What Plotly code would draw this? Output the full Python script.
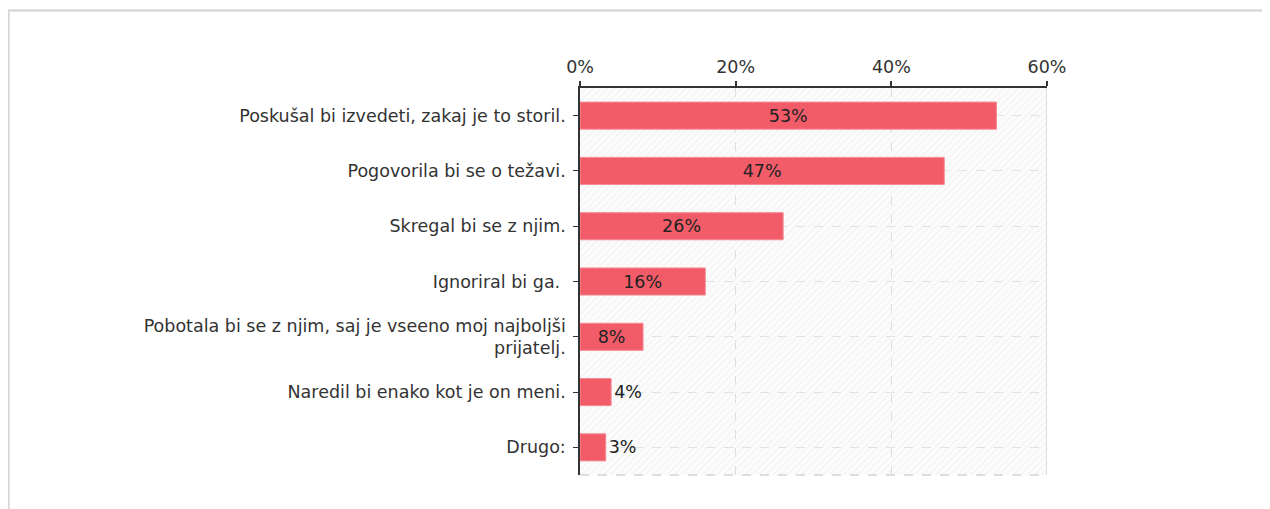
import plotly.graph_objects as go

# answers, top to bottom
answers = [
    "Poskušal bi izvedeti, zakaj je to storil.",
    "Pogovorila bi se o težavi.",
    "Skregal bi se z njim.",
    "Ignoriral bi ga. ",
    "Pobotala bi se z njim, saj je vseeno moj najboljši<br>prijatelj.",
    "Naredil bi enako kot je on meni.",
    "Drugo:",
]
shares = [53.5, 46.8, 26.1, 16.1, 8.1, 4.0, 3.3]
share_labels = ["53%", "47%", "26%", "16%", "8%", "4%", "3%"]
x_ticks = [0, 20, 40, 60]
x_tick_text = ["0%", "20%", "40%", "60%"]

BAR = "#f25c69"
FONT = "DejaVu Sans"

# plot area in figure pixels (page has an 8px body margin)
W, H = 1262, 501
L, T, PW, PH = 572, 80, 467, 387


def px(fx):
    return (fx - L) / PW


def py(fy):
    return (T + PH - fy) / PH


fig = go.Figure()

# hatched background, one full-height band per category
fig.add_trace(go.Bar(
    x=[x_ticks[-1]] * len(answers), y=answers, orientation="h", width=1,
    marker=dict(color="rgba(0,0,0,0)", line_width=0,
                pattern=dict(shape="/", fgcolor="#ebebeb", bgcolor="rgba(0,0,0,0)",
                             size=5, solidity=0.3)),
    hoverinfo="skip", showlegend=False,
))

# inside labels for wide bars, outside for narrow ones
positions = ["inside" if v > 6 else "outside" for v in shares]

fig.add_trace(go.Bar(
    x=shares, y=answers, orientation="h",
    marker=dict(color=BAR, line=dict(color="#f58a94", width=1)),
    width=0.49,
    text=share_labels, textposition=positions,
    insidetextanchor="middle",
    textfont=dict(family=FONT, size=17.5, color="#222222"),
    constraintext="none", cliponaxis=False,
    showlegend=False,
))

fig.update_layout(
    width=W, height=H,
    margin=dict(l=L, r=W - L - PW, t=T, b=H - T - PH),
    paper_bgcolor="white", plot_bgcolor="#fcfcfc",
    font=dict(family=FONT, size=17.5, color="#333333"),
    barmode="overlay",
    xaxis=dict(
        side="top", range=[0, 60], tickvals=x_ticks, ticktext=x_tick_text,
        showline=True, linecolor="#333333", linewidth=1.5,
        ticks="outside", ticklen=5, tickcolor="#333333", tickwidth=1.5,
        showgrid=True, gridcolor="#dcdcdc", griddash="dash", gridwidth=1,
        zeroline=False, tickfont=dict(size=17.5, color="#333333"),
        ticklabelstandoff=1,
    ),
    yaxis=dict(
        autorange=False, range=[6.5, -0.5], type="category",
        categoryorder="array", categoryarray=answers,
        showline=True, linecolor="#333333", linewidth=1.5,
        ticks="outside", ticklen=5, tickcolor="#333333",
        showgrid=True, gridcolor="#e0e0e0", griddash="dash",
        tickfont=dict(size=17.5, color="#333333"),
        ticklabelstandoff=4,
    ),
)

# right border and bottom edge of the plot area
fig.add_shape(type="line", xref="x", yref="paper", x0=60, x1=60, y0=0, y1=1,
              line=dict(color="#d4d4d4", width=1.5))
fig.add_shape(type="line", xref="paper", yref="paper", x0=0, x1=1, y0=0, y1=0,
              line=dict(color="#d4d4d4", width=1.5, dash="dash"))

# outer frame of the container (top and left edges)
fig.add_shape(type="line", xref="paper", yref="paper",
              x0=px(0), x1=px(W), y0=py(2.5), y1=py(2.5),
              line=dict(color="#d8d8d8", width=2.5))
fig.add_shape(type="line", xref="paper", yref="paper",
              x0=px(0.5), x1=px(0.5), y0=py(1.5), y1=py(H),
              line=dict(color="#d8d8d8", width=2.5))

fig.write_html("out.html")
